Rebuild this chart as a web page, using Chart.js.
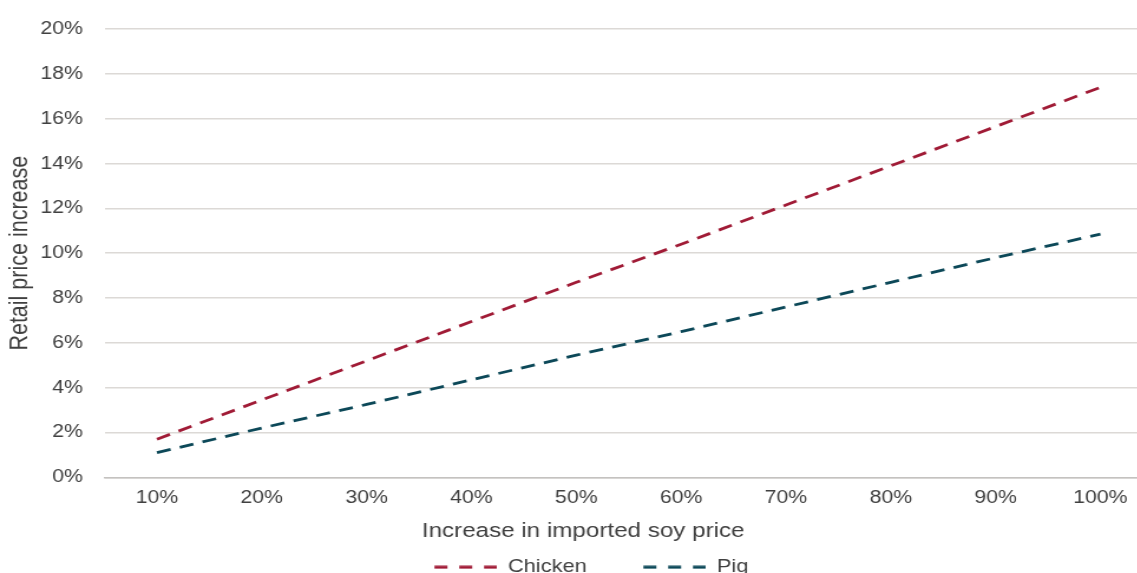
<!DOCTYPE html>
<html>
<head>
<meta charset="utf-8">
<script src="https://cdn.jsdelivr.net/npm/chart.js@4/dist/chart.umd.min.js"></script>
<style>
  html, body { margin: 0; padding: 0; background: #ffffff; overflow: hidden; }
  /* the chart is drawn at its natural width and widened on screen */
  #stage { width: 977px; height: 606px; transform: scaleX(1.18); transform-origin: 0 0; }
</style>
</head>
<body>
<div id="stage"><canvas id="chart" width="977" height="606"></canvas></div>
<script>
// Increase in imported soy price (x categories)
const categories = ['10%', '20%', '30%', '40%', '50%', '60%', '70%', '80%', '90%', '100%'];
// Retail price increase, percent
const chickenValues = [1.7, 3.45, 5.2, 6.95, 8.7, 10.4, 12.15, 13.9, 15.65, 17.4];
const pigValues = [1.1, 2.2, 3.25, 4.35, 5.45, 6.5, 7.6, 8.7, 9.8, 10.85];
// Y axis range and tick step, percent
const yMin = 0;
const yMax = 20;
const yStep = 2;

const seriesNames = ['Chicken', 'Pig'];
const seriesColors = ['#a01b36', '#0c4858'];

const FONT = "'Liberation Sans', Arial, sans-serif";
const TEXT = '#404040';

// legend marker: a short dashed line, right-aligned in a slightly wider box
const SWATCH_LEAD = 14;
const SWATCH_LINE = 53;
function dashSwatch(color) {
  const c = document.createElement('canvas');
  c.width = SWATCH_LEAD + SWATCH_LINE;
  c.height = 4;
  const g = c.getContext('2d');
  g.strokeStyle = color;
  g.lineWidth = 3;
  g.setLineDash([11, 10]);
  g.beginPath();
  g.moveTo(SWATCH_LEAD, 2);
  g.lineTo(SWATCH_LEAD + SWATCH_LINE, 2);
  g.stroke();
  return c;
}
const swatches = seriesColors.map(dashSwatch);

// keeps the legend close under the axis title
const legendLift = {
  id: 'legendLift',
  afterLayout(chart, args, opts) {
    const lg = chart.legend;
    if (!lg) return;
    lg.top -= opts.lift;
    lg.bottom -= opts.lift;
  }
};

new Chart(document.getElementById('chart'), {
  type: 'line',
  data: {
    labels: categories,
    datasets: [
      {
        label: seriesNames[0],
        data: chickenValues,
        borderColor: seriesColors[0],
        backgroundColor: seriesColors[0],
        borderWidth: 2.8,
        borderDash: [12, 8],
        pointRadius: 0,
        tension: 0,
        fill: false
      },
      {
        label: seriesNames[1],
        data: pigValues,
        borderColor: seriesColors[1],
        backgroundColor: seriesColors[1],
        borderWidth: 2.8,
        borderDash: [12, 8],
        pointRadius: 0,
        tension: 0,
        fill: false
      }
    ]
  },
  options: {
    responsive: false,
    devicePixelRatio: 1,
    animation: false,
    layout: { padding: { top: 23.5, left: 11.4, right: 0, bottom: 0 } },
    scales: {
      x: {
        offset: true,
        grid: { display: false, drawTicks: false },
        border: { display: true, color: '#c4c2c0', width: 1.5 },
        ticks: { color: TEXT, font: { family: FONT, size: 18 }, padding: 10, maxRotation: 0 }
      },
      y: {
        min: yMin,
        max: yMax,
        afterFit(scale) { scale.width = 77.2; },
        grid: { color: '#dcd9d6', lineWidth: 1.5, drawTicks: false },
        border: { display: false },
        ticks: {
          stepSize: yStep,
          color: TEXT,
          font: { family: FONT, size: 18 },
          padding: 18.3,
          callback: (v) => v + '%'
        },
        title: {
          display: true,
          text: 'Retail price increase',
          color: TEXT,
          font: { family: FONT, size: 21.5, lineHeight: 0.5 },
          padding: { top: 0.4, bottom: 0 }
        }
      }
    },
    plugins: {
      title: {
        display: true,
        position: 'bottom',
        weight: 500,
        text: 'Increase in imported soy price',
        color: TEXT,
        font: { family: FONT, size: 20.5, weight: 'normal' },
        padding: { top: 0, bottom: 0 }
      },
      legend: {
        position: 'bottom',
        weight: 1000,
        labels: {
          color: TEXT,
          font: { family: FONT, size: 18.5 },
          usePointStyle: true,
          pointStyleWidth: SWATCH_LEAD + SWATCH_LINE,
          padding: 34,
          generateLabels(chart) {
            const items = Chart.defaults.plugins.legend.labels.generateLabels(chart);
            items.forEach((it, i) => { it.pointStyle = swatches[i]; });
            return items;
          }
        }
      },
      legendLift: { lift: 19.5 },
      tooltip: { enabled: false }
    }
  },
  plugins: [legendLift]
});
</script>
</body>
</html>
